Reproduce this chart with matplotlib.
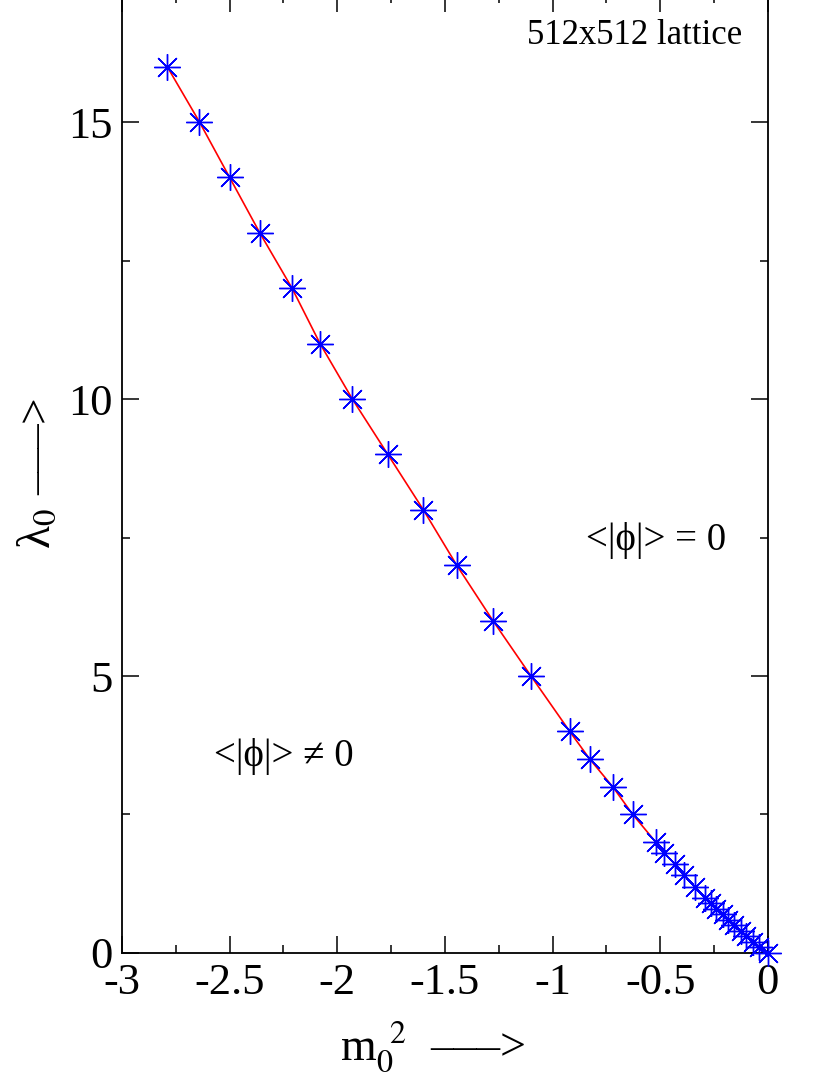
import numpy as np
import matplotlib
matplotlib.use('Agg')
import matplotlib.pyplot as plt
from matplotlib.ticker import MultipleLocator

plt.rcParams['font.family'] = ['Liberation Serif', 'DejaVu Serif']
plt.rcParams['mathtext.fontset'] = 'stix'

# critical line lambda_0 vs m_0^2, 512x512 lattice
m2 = [-2.79, -2.64, -2.50, -2.36, -2.21, -2.08, -1.93, -1.765, -1.60, -1.445,
      -1.277, -1.10, -0.92, -0.827, -0.72, -0.627,
      -0.52, -0.48, -0.43, -0.39, -0.34, -0.29, -0.265, -0.24, -0.21, -0.185,
      -0.155, -0.125, -0.10, -0.07, -0.04, 0.0]
lam = [16, 15, 14, 13, 12, 11, 10, 9, 8, 7,
       6, 5, 4, 3.5, 3, 2.5,
       2.0, 1.8, 1.6, 1.4, 1.2, 1.0, 0.9, 0.8, 0.7, 0.6,
       0.5, 0.4, 0.3, 0.2, 0.1, 0.0]

fig = plt.figure(figsize=(8.3, 10.75), dpi=100)
ax = fig.add_axes([0.147, 0.1135, 0.778, 0.8915])

ax.plot(m2, lam, color='red', lw=1.2, zorder=2)
ax.plot(m2, lam, ls='none', marker=(8, 2, 0), ms=19, mec='blue', mew=1.0,
        zorder=3, clip_on=False)

ax.set_xlim(-3, 0)
ax.set_ylim(0, 17.3)
ax.xaxis.set_major_locator(MultipleLocator(0.5))
ax.xaxis.set_minor_locator(MultipleLocator(0.25))
ax.yaxis.set_major_locator(MultipleLocator(5))
ax.yaxis.set_minor_locator(MultipleLocator(2.5))
ax.xaxis.set_major_formatter(plt.FuncFormatter(lambda v, p: '%g' % v))
ax.tick_params(which='both', direction='in', top=True, right=True, labelsize=32, width=1.1, pad=7)
ax.tick_params(which='major', length=12)
ax.tick_params(which='minor', length=6)
for s in ax.spines.values():
    s.set_linewidth(1.3)

ax.set_xlabel(r'm$_0^{\;\;2}$  –––>', fontsize=33, labelpad=2)
ax.xaxis.set_label_coords(0.48, -0.07)
ax.set_ylabel(r'λ$_0$ –––>', fontsize=34, labelpad=6)

ax.text(0.96, 0.975, '512x512 lattice', transform=ax.transAxes, ha='right', va='top', fontsize=25)
ax.text(-0.52, 7.45, '<|ϕ|> = 0', ha='center', va='center', fontsize=28,
        family=['Liberation Serif', 'DejaVu Sans'])
ax.text(-2.25, 3.55, '<|ϕ|> ≠ 0', ha='center', va='center', fontsize=28,
        family=['Liberation Serif', 'DejaVu Sans'])

fig.savefig('out.png', dpi=100)
